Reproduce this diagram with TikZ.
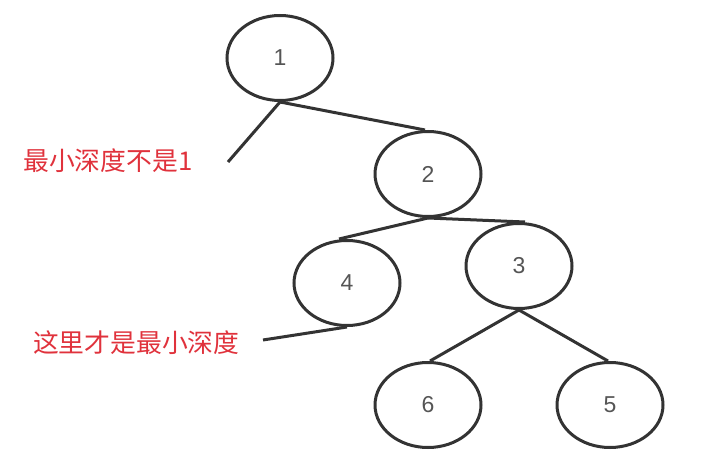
\documentclass[tikz,border=0pt]{standalone}
\usepackage{fontspec}
\setmainfont{Liberation Sans}
\newfontfamily\cjk{Noto Sans CJK SC}
\usetikzlibrary{shapes.geometric}
\definecolor{linec}{HTML}{333333}
\definecolor{numc}{HTML}{555555}
\definecolor{redc}{HTML}{E0323C}
\tikzset{
  treenode/.style={ellipse, draw=linec, line width=3pt, minimum width=106pt, minimum height=85pt, inner sep=0pt,
    text=numc, font=\fontsize{23}{27}\selectfont},
  edge/.style={draw=linec, line width=3pt},
  note/.style={text=redc, font=\cjk\fontsize{25.8}{30}\selectfont, inner sep=0pt, anchor=west}
}
\begin{document}
\begin{tikzpicture}[x=1pt,y=-1pt]
\useasboundingbox (0,0) rectangle (718,470);
\node[treenode] (n1) at (280,58) {1};
\node[treenode] (n2) at (428,174) {2};
\node[treenode] (n4) at (347,283) {4};
\node[treenode] (n3) at (519,266) {3};
\node[treenode] (n6) at (428,405) {6};
\node[treenode] (n5) at (610,405) {5};
\coordinate (e1) at (228,162);
\coordinate (e4) at (263,340);
\node[note] (t1) at (23,161) {最小深度不是1};
\node[note] (t2) at (33,343) {这里才是最小深度};
\draw[edge] (n1.south) -- (e1);
\draw[edge] (n1.south) -- ([xshift=-3pt]n2.north);
\draw[edge] (n2.south) -- ([xshift=-8pt]n4.north);
\draw[edge] (n2.south) -- ([xshift=6pt]n3.north);
\draw[edge] (n4.south) -- (e4);
\draw[edge] (n3.south) -- ([xshift=2pt]n6.north);
\draw[edge] (n3.south) -- ([xshift=-2pt]n5.north);
\end{tikzpicture}
\end{document}
